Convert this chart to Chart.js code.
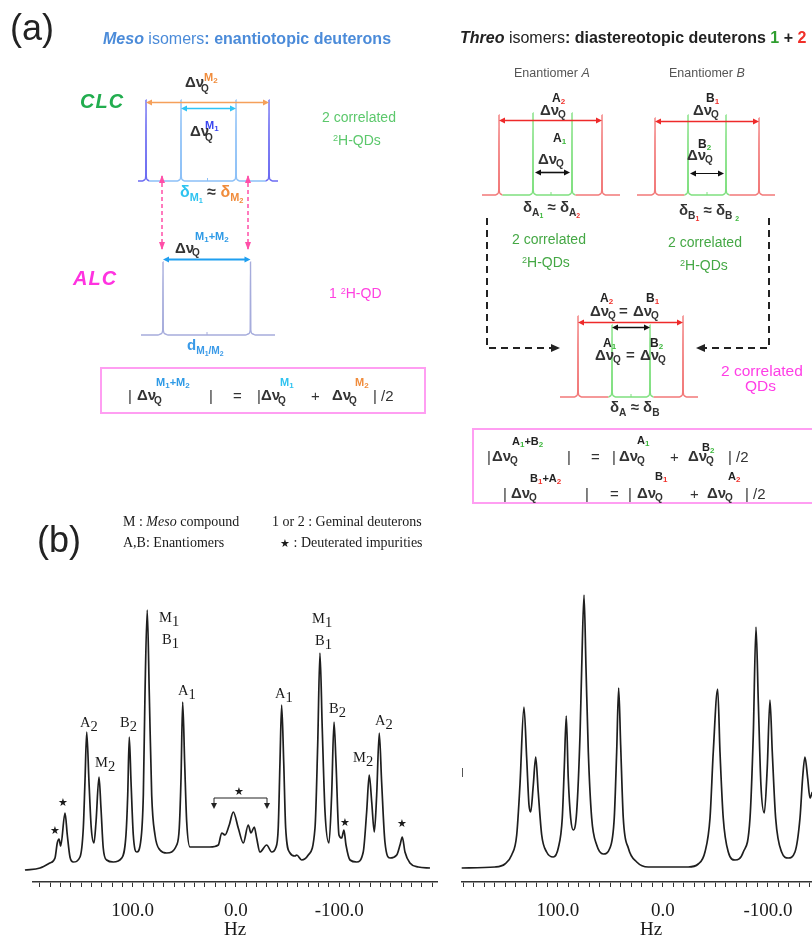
<!doctype html>
<html lang="en">
<head>
<meta charset="UTF-8" />
<title>2H NMR of meso and threo isomers</title>
<script src="https://cdn.jsdelivr.net/npm/chart.js@4.4.1/dist/chart.umd.min.js"></script>
<style>
  html, body { margin: 0; padding: 0; width: 812px; height: 938px; overflow: hidden; background: #fff; }
  #fig { position: relative; width: 812px; height: 938px; overflow: hidden; }
  canvas { position: absolute; }
  .t { position: absolute; white-space: nowrap; line-height: 1; font-family: "Liberation Sans", Arial, sans-serif; color: #222; }
  .dn { font-size: 15px; font-weight: bold; color: #333; }
  .q { font-size: 10px; font-weight: bold; color: #333; }
  .sp { font-size: 11px; font-weight: bold; }
  .sp small, .lab small { font-size: 8px; position: relative; top: 2px; }
  .lab { font-size: 12px; font-weight: bold; color: #222; }
  .fm { font-size: 15px; color: #333; }
  .lo { font-size: 0.68em; position: relative; top: 0.35em; }
  .up { font-size: 0.65em; position: relative; top: -0.45em; }
  .r { color: #f0302a; }
  .g { color: #3cb83c; }
  .serif { font-family: "Liberation Serif", "Times New Roman", serif; color: #1a1a1a; }
  .pk { font-size: 14.5px; }
  .pk span { position: relative; top: 4px; }
  .star { font-size: 11px; transform: translate(-50%, -50%); }
  .box { position: absolute; border: 2px solid #ff9ef2; box-sizing: border-box; }
</style>
</head>
<body>
<div id="fig">
  <!-- part (a) stick spectra -->
  <canvas id="clc" width="156" height="96" style="left:130px;top:90px"></canvas>
  <canvas id="alc" width="156" height="90" style="left:130px;top:250px"></canvas>
  <canvas id="enA" width="152" height="92" style="left:475px;top:108px"></canvas>
  <canvas id="enB" width="152" height="92" style="left:630px;top:108px"></canvas>
  <canvas id="mix" width="160" height="92" style="left:550px;top:310px"></canvas>
  <!-- part (b) spectra -->
  <canvas id="specL" width="450" height="345" style="left:0px;top:595px"></canvas>
  <canvas id="specR" width="400" height="355" style="left:440px;top:585px"></canvas>

  <svg width="812" height="938" style="position:absolute;left:0;top:0">
    <defs>
      <marker id="pinkHead" markerUnits="userSpaceOnUse" markerWidth="8" markerHeight="8" refX="7" refY="4" orient="auto-start-reverse">
        <path d="M0,1 L8,4 L0,7 z" fill="#ff4fa8" />
      </marker>
      <marker id="blackHead" markerUnits="userSpaceOnUse" markerWidth="10" markerHeight="10" refX="2" refY="5" orient="auto">
        <path d="M0,1 L9,5 L0,9 z" fill="#222" />
      </marker>
      <marker id="tinyHead" markerUnits="userSpaceOnUse" markerWidth="6" markerHeight="6" refX="3" refY="3" orient="auto-start-reverse">
        <path d="M0,0 L6,3 L0,6 z" fill="#222" />
      </marker>
    </defs>
    <line x1="162" y1="176" x2="162" y2="249" stroke="#ff4fa8" stroke-width="1.5" stroke-dasharray="4 3" marker-start="url(#pinkHead)" marker-end="url(#pinkHead)" />
    <line x1="248" y1="176" x2="248" y2="249" stroke="#ff4fa8" stroke-width="1.5" stroke-dasharray="4 3" marker-start="url(#pinkHead)" marker-end="url(#pinkHead)" />
    <path d="M487,218 V348 H553" fill="none" stroke="#222" stroke-width="2" stroke-dasharray="7 5" marker-end="url(#blackHead)" />
    <path d="M769,218 V348 H703" fill="none" stroke="#222" stroke-width="2" stroke-dasharray="7 5" marker-end="url(#blackHead)" />
    <path d="M214,806 V798 H267 V806" fill="none" stroke="#222" stroke-width="1" marker-start="url(#tinyHead)" marker-end="url(#tinyHead)" />
    <line x1="462.5" y1="768" x2="462.5" y2="777" stroke="#555" stroke-width="1" />
  </svg>

  <!-- ===== part (a), meso ===== -->
  <div class="t" style="left:10px;top:10px;font-size:36px;">(a)</div>
  <div class="t" style="left:103px;top:31px;font-size:16px;color:#4b8bd9"><b><i>Meso</i></b> isomers<b>: enantiotopic deuterons</b></div>
  <div class="t" style="left:80px;top:91px;font-size:20px;font-weight:bold;font-style:italic;color:#22ad4f;letter-spacing:1px">CLC</div>
  <div class="t dn" style="left:185px;top:74px">Δν</div>
  <div class="t q" style="left:201px;top:84px">Q</div>
  <div class="t sp" style="left:204px;top:72px;color:#f08c3c">M<small>2</small></div>
  <div class="t sp" style="left:205px;top:120px;color:#3a46f0">M<small>1</small></div>
  <div class="t dn" style="left:190px;top:123px">Δν</div>
  <div class="t q" style="left:205px;top:133px">Q</div>
  <div class="t" style="left:322px;top:110px;font-size:14px;color:#5cc86c">2 correlated</div>
  <div class="t" style="left:333px;top:133px;font-size:14px;color:#5cc86c"><span class="up">2</span>H-QDs</div>
  <div class="t" style="left:180px;top:184px;font-size:16px;font-weight:bold;color:#333"><span style="color:#2ec3f0">δ<span class="lo">M<span class="lo">1</span></span></span> ≈ <span style="color:#f08c3c">δ<span class="lo">M<span class="lo">2</span></span></span></div>
  <div class="t sp" style="left:195px;top:231px;color:#2e9ae6">M<small>1</small>+M<small>2</small></div>
  <div class="t dn" style="left:175px;top:240px">Δν</div>
  <div class="t q" style="left:192px;top:248px">Q</div>
  <div class="t" style="left:73px;top:268px;font-size:20px;font-weight:bold;font-style:italic;color:#ff33e0;letter-spacing:1px">ALC</div>
  <div class="t" style="left:329px;top:286px;font-size:14px;color:#ff40e0">1 <span class="up">2</span>H-QD</div>
  <div class="t" style="left:187px;top:337px;font-size:15px;font-weight:bold;color:#3a9ae8">d<span class="lo">M<span class="lo">1</span>/M<span class="lo">2</span></span></div>

  <div class="box" style="left:100px;top:367px;width:326px;height:47px"></div>
  <div class="t fm" style="left:128px;top:388px">|</div>
  <div class="t dn" style="left:137px;top:387px">Δν</div>
  <div class="t q" style="left:154px;top:396px">Q</div>
  <div class="t sp" style="left:156px;top:377px;color:#2e9ae6">M<small>1</small>+M<small>2</small></div>
  <div class="t fm" style="left:209px;top:388px">|</div>
  <div class="t fm" style="left:233px;top:388px">=</div>
  <div class="t fm" style="left:257px;top:388px">|</div>
  <div class="t dn" style="left:261px;top:387px">Δν</div>
  <div class="t q" style="left:278px;top:396px">Q</div>
  <div class="t sp" style="left:280px;top:377px;color:#2ec3f0">M<small>1</small></div>
  <div class="t fm" style="left:311px;top:388px">+</div>
  <div class="t dn" style="left:332px;top:387px">Δν</div>
  <div class="t q" style="left:349px;top:396px">Q</div>
  <div class="t sp" style="left:355px;top:377px;color:#f08c3c">M<small>2</small></div>
  <div class="t fm" style="left:373px;top:388px">| /2</div>

  <!-- ===== part (a), threo ===== -->
  <div class="t" style="left:460px;top:30px;font-size:16px;color:#222"><b><i>Threo</i></b> isomers<b>: diastereotopic deuterons <span style="color:#2f9e2f">1</span> + <span class="r">2</span></b></div>
  <div class="t" style="left:514px;top:67px;font-size:12.5px;color:#555">Enantiomer <i>A</i></div>
  <div class="t" style="left:669px;top:67px;font-size:12.5px;color:#555">Enantiomer <i>B</i></div>

  <div class="t lab" style="left:552px;top:92px">A<small class="r">2</small></div>
  <div class="t dn" style="left:540px;top:102px">Δν</div>
  <div class="t q" style="left:558px;top:110px">Q</div>
  <div class="t lab" style="left:553px;top:132px">A<small class="g">1</small></div>
  <div class="t dn" style="left:538px;top:151px">Δν</div>
  <div class="t q" style="left:556px;top:159px">Q</div>

  <div class="t lab" style="left:706px;top:92px">B<small class="r">1</small></div>
  <div class="t dn" style="left:693px;top:102px">Δν</div>
  <div class="t q" style="left:711px;top:110px">Q</div>
  <div class="t lab" style="left:698px;top:138px">B<small class="g">2</small></div>
  <div class="t dn" style="left:687px;top:147px">Δν</div>
  <div class="t q" style="left:705px;top:155px">Q</div>

  <div class="t" style="left:523px;top:199px;font-size:15px;font-weight:bold;color:#333">δ<span class="lo">A<span class="lo g">1</span></span> ≈ δ<span class="lo">A<span class="lo r">2</span></span></div>
  <div class="t" style="left:679px;top:202px;font-size:15px;font-weight:bold;color:#333">δ<span class="lo">B<span class="lo r">1</span></span> ≈ δ<span class="lo">B <span class="lo g">2</span></span></div>
  <div class="t" style="left:512px;top:232px;font-size:14px;color:#45a845">2 correlated</div>
  <div class="t" style="left:522px;top:255px;font-size:14px;color:#45a845"><span class="up">2</span>H-QDs</div>
  <div class="t" style="left:668px;top:235px;font-size:14px;color:#45a845">2 correlated</div>
  <div class="t" style="left:680px;top:258px;font-size:14px;color:#45a845"><span class="up">2</span>H-QDs</div>

  <div class="t lab" style="left:600px;top:292px">A<small class="r">2</small></div>
  <div class="t lab" style="left:646px;top:292px">B<small class="r">1</small></div>
  <div class="t dn" style="left:590px;top:303px">Δν</div>
  <div class="t q" style="left:608px;top:311px">Q</div>
  <div class="t dn" style="left:619px;top:303px">=</div>
  <div class="t dn" style="left:633px;top:303px">Δν</div>
  <div class="t q" style="left:651px;top:311px">Q</div>
  <div class="t lab" style="left:603px;top:337px">A<small class="g">1</small></div>
  <div class="t lab" style="left:650px;top:337px">B<small class="g">2</small></div>
  <div class="t dn" style="left:595px;top:347px">Δν</div>
  <div class="t q" style="left:613px;top:355px">Q</div>
  <div class="t dn" style="left:626px;top:347px">=</div>
  <div class="t dn" style="left:640px;top:347px">Δν</div>
  <div class="t q" style="left:658px;top:355px">Q</div>
  <div class="t" style="left:721px;top:363px;font-size:15.5px;color:#ff3ee6">2 correlated</div>
  <div class="t" style="left:745px;top:378px;font-size:15.5px;color:#ff3ee6">QDs</div>
  <div class="t" style="left:610px;top:399px;font-size:15px;font-weight:bold;color:#333">δ<span class="lo">A</span> ≈ δ<span class="lo">B</span></div>

  <div class="box" style="left:472px;top:428px;width:345px;height:76px"></div>
  <div class="t fm" style="left:487px;top:449px">|</div>
  <div class="t dn" style="left:492px;top:448px">Δν</div>
  <div class="t q" style="left:510px;top:456px">Q</div>
  <div class="t sp" style="left:512px;top:436px">A<small class="g">1</small>+B<small class="g">2</small></div>
  <div class="t fm" style="left:567px;top:449px">|</div>
  <div class="t fm" style="left:591px;top:449px">=</div>
  <div class="t fm" style="left:612px;top:449px">|</div>
  <div class="t dn" style="left:619px;top:448px">Δν</div>
  <div class="t q" style="left:637px;top:456px">Q</div>
  <div class="t sp" style="left:637px;top:435px">A<small class="g">1</small></div>
  <div class="t fm" style="left:670px;top:449px">+</div>
  <div class="t dn" style="left:688px;top:448px">Δν</div>
  <div class="t q" style="left:706px;top:456px">Q</div>
  <div class="t sp" style="left:702px;top:442px">B<small class="g">2</small></div>
  <div class="t fm" style="left:728px;top:449px">| /2</div>

  <div class="t fm" style="left:503px;top:486px">|</div>
  <div class="t dn" style="left:511px;top:485px">Δν</div>
  <div class="t q" style="left:529px;top:493px">Q</div>
  <div class="t sp" style="left:530px;top:473px">B<small class="r">1</small>+A<small class="r">2</small></div>
  <div class="t fm" style="left:585px;top:486px">|</div>
  <div class="t fm" style="left:610px;top:486px">=</div>
  <div class="t fm" style="left:628px;top:486px">|</div>
  <div class="t dn" style="left:637px;top:485px">Δν</div>
  <div class="t q" style="left:655px;top:493px">Q</div>
  <div class="t sp" style="left:655px;top:471px">B<small class="r">1</small></div>
  <div class="t fm" style="left:690px;top:486px">+</div>
  <div class="t dn" style="left:707px;top:485px">Δν</div>
  <div class="t q" style="left:725px;top:493px">Q</div>
  <div class="t sp" style="left:728px;top:471px">A<small class="r">2</small></div>
  <div class="t fm" style="left:745px;top:486px">| /2</div>

  <!-- ===== part (b) ===== -->
  <div class="t" style="left:37px;top:522px;font-size:36px;">(b)</div>
  <div class="t serif" style="left:123px;top:515px;font-size:14px">M : <i>Meso</i> compound</div>
  <div class="t serif" style="left:272px;top:515px;font-size:14px">1 or 2 : Geminal deuterons</div>
  <div class="t serif" style="left:123px;top:536px;font-size:14px">A,B: Enantiomers</div>
  <div class="t serif" style="left:280px;top:536px;font-size:14px"><span style="font-size:11px">★</span> : Deuterated impurities</div>

  <div class="t serif pk" style="left:80px;top:715px">A<span>2</span></div>
  <div class="t serif pk" style="left:95px;top:755px">M<span>2</span></div>
  <div class="t serif pk" style="left:120px;top:715px">B<span>2</span></div>
  <div class="t serif pk" style="left:159px;top:610px">M<span>1</span></div>
  <div class="t serif pk" style="left:162px;top:632px">B<span>1</span></div>
  <div class="t serif pk" style="left:178px;top:683px">A<span>1</span></div>
  <div class="t serif pk" style="left:275px;top:686px">A<span>1</span></div>
  <div class="t serif pk" style="left:312px;top:611px">M<span>1</span></div>
  <div class="t serif pk" style="left:315px;top:633px">B<span>1</span></div>
  <div class="t serif pk" style="left:329px;top:701px">B<span>2</span></div>
  <div class="t serif pk" style="left:353px;top:750px">M<span>2</span></div>
  <div class="t serif pk" style="left:375px;top:713px">A<span>2</span></div>
  <div class="t serif star" style="left:55px;top:830px">★</div>
  <div class="t serif star" style="left:63px;top:802px">★</div>
  <div class="t serif star" style="left:239px;top:791px">★</div>
  <div class="t serif star" style="left:345px;top:822px">★</div>
  <div class="t serif star" style="left:402px;top:823px">★</div>
</div>

<script>
  // ---- part (b): 2H spectra (Hz, intensity above baseline)
  const leftHz = [
    204.3, 189.7, 180.1, 175.2, 173.0, 171.3, 169.7, 165.5, 163.3, 160.7,
    157.5, 151.0, 147.8, 146.2, 144.5, 142.3, 140.1, 137.5, 135.5, 132.6,
    130.7, 128.5, 125.2, 118.8, 110.6, 106.5, 104.8, 103.3, 101.6, 99.4,
    96.1, 92.3, 89.7, 88.1, 85.9, 83.9, 81.6, 78.4, 73.6, 67.1,
    57.4, 54.9, 53.2, 51.6, 49.7, 47.7, 44.5, 34.8, 25.2, 17.1,
    13.8, 10.6, 6.5, 2.6, -2.2, -7.1, -11.9, -14.5, -17.7, -20.0,
    -23.2, -29.7, -34.6, -38.4, -40.9, -42.6, -44.2, -46.2, -48.1, -52.3,
    -57.1, -58.8, -63.6, -70.0, -76.5, -79.1, -81.3, -83.5, -86.2, -90.0,
    -92.6, -94.9, -96.8, -99.7, -102.3, -104.5, -106.5, -110.4, -116.8, -123.2,
    -126.5, -129.0, -131.4, -133.9, -136.2, -138.7, -141.0, -144.2, -149.1, -155.6,
    -158.8, -161.0, -163.6, -168.4, -176.5, -187.8
  ];
  const leftInt = [
    -2, 0, 5, 10, 25, 29, 22, 55, 33, 11,
    6, 11, 40, 86, 136, 86, 40, 25, 46, 91,
    60, 20, 8, 6, 10, 33, 73, 131, 86, 33,
    16, 26, 73, 173, 258, 173, 73, 33, 18, 15,
    23, 40, 90, 166, 106, 46, 21, 21, 21, 23,
    35, 33, 43, 56, 40, 25, 43, 35, 41, 30,
    16, 23, 16, 20, 40, 106, 163, 106, 40, 15,
    12, 13, 8, 13, 40, 123, 215, 140, 56, 25,
    73, 146, 106, 33, 30, 38, 23, 8, 6, 16,
    56, 93, 66, 36, 73, 135, 86, 26, 10, 13,
    23, 31, 16, 5, 1, 0
  ];
  const rightHz = [
    191.7, 160.0, 150.5, 144.1, 139.3, 136.2, 132.4, 129.8, 127.6, 126.0,
    123.5, 121.2, 118.8, 115.5, 110.8, 104.5, 99.7, 95.9, 94.0, 92.1,
    90.2, 87.9, 85.4, 82.2, 79.0, 77.4, 75.2, 73.3, 71.1, 67.9,
    63.1, 56.9, 50.5, 46.4, 44.1, 42.2, 40.3, 37.8, 33.0, 25.0,
    14.0, -24.1, -33.6, -40.0, -44.8, -47.9, -52.1, -54.3, -57.4, -62.2,
    -68.6, -76.5, -82.9, -86.0, -88.6, -90.8, -93.3, -96.5, -99.3, -101.9,
    -104.1, -107.3, -113.0, -119.3, -125.7, -130.5, -133.0, -135.2, -137.8, -140.0,
    -142.2
  ];
  const rightInt = [
    -1, 0, 3, 12, 32, 82, 160, 109, 62, 55,
    82, 110, 75, 32, 15, 10, 19, 49, 99, 151,
    89, 49, 37, 55, 132, 199, 272, 199, 115, 49,
    22, 13, 19, 49, 115, 179, 122, 49, 19, 5,
    0, 0, 3, 15, 49, 115, 178, 115, 49, 15,
    7, 15, 49, 132, 240, 165, 82, 54, 99, 167,
    115, 49, 15, 9, 15, 49, 89, 110, 89, 69,
    75
  ];
  const majorTicks = [100, 0, -100];
  const tickStep = 10;

  // ---- part (a): schematic stick spectra (relative Hz, peak heights)
  const clcPeaks = [-61.5, -26.5, 28.5, 61.5];
  const clcHeights = [81, 81, 81, 81];
  const clcSpan = [-69.5, 70.5];
  const alcPeaks = [-44, 43.5];
  const alcHeights = [73, 73];
  const alcSpan = [-66, 68];
  const enAPeaks = [-52, -18, 21, 51];
  const enAHeights = [80, 82, 82, 80];
  const enASpan = [-69, 69];
  const enBPeaks = [-52, -19, 19, 52];
  const enBHeights = [77, 80, 80, 77];
  const enBSpan = [-70, 68];
  const mixPeaks = [-53, -19, 19, 52];
  const mixHeights = [81, 72, 72, 81];
  const mixSpan = [-71, 67];

  // one narrow line per peak, with a small foot at the base
  function stickPoints(peaks, heights, span, flare) {
    const pts = [{ x: span[0], y: 0 }];
    peaks.forEach((p, i) => {
      pts.push(
        { x: p - flare, y: 0 }, { x: p - flare * 0.35, y: 1.2 }, { x: p - 0.3, y: 5 },
        { x: p, y: heights[i] },
        { x: p + 0.3, y: 5 }, { x: p + flare * 0.35, y: 1.2 }, { x: p + flare, y: 0 }
      );
    });
    pts.push({ x: span[1], y: 0 });
    return pts;
  }

  // double-headed QD arrows between two peaks + the small centre mark
  const arrowPlugin = {
    id: 'qdArrows',
    afterDatasetsDraw(chart, args, opts) {
      const ctx = chart.ctx;
      const xs = chart.scales.x, ys = chart.scales.y;
      ctx.save();
      const cx = xs.getPixelForValue(0), cy = ys.getPixelForValue(0);
      ctx.strokeStyle = opts.mark;
      ctx.lineWidth = 1;
      ctx.beginPath(); ctx.moveTo(cx, cy); ctx.lineTo(cx, cy - 3); ctx.stroke();
      opts.list.forEach(a => {
        const inset = a.inset || 0;
        const x1 = xs.getPixelForValue(opts.peaks[a.pair[0]] + inset);
        const x2 = xs.getPixelForValue(opts.peaks[a.pair[1]] - inset);
        const y = Math.round(ys.getPixelForValue(a.y)) + 0.5;
        ctx.strokeStyle = a.color;
        ctx.fillStyle = a.color;
        ctx.lineWidth = a.width;
        ctx.beginPath(); ctx.moveTo(x1 + 4, y); ctx.lineTo(x2 - 4, y); ctx.stroke();
        [[x1, 1], [x2, -1]].forEach(([px, d]) => {
          ctx.beginPath();
          ctx.moveTo(px, y);
          ctx.lineTo(px + 6 * d, y - 3);
          ctx.lineTo(px + 6 * d, y + 3);
          ctx.closePath();
          ctx.fill();
        });
      });
      ctx.restore();
    }
  };

  function stickChart(id, cfg) {
    return new Chart(document.getElementById(id), {
      type: 'line',
      data: {
        datasets: [{
          data: stickPoints(cfg.peaks, cfg.heights, cfg.span, cfg.flare),
          borderWidth: 1.4,
          borderColor: cfg.inner,
          pointRadius: 0,
          cubicInterpolationMode: 'monotone',
          clip: false,
          segment: {
            borderColor: c => Math.abs((c.p0.parsed.x + c.p1.parsed.x) / 2) > cfg.split ? cfg.outer : cfg.inner
          }
        }]
      },
      options: {
        responsive: false,
        animation: false,
        events: [],
        layout: { padding: 0 },
        scales: {
          x: { type: 'linear', display: false, min: cfg.xr[0], max: cfg.xr[1] },
          y: { display: false, min: cfg.yr[0], max: cfg.yr[1] }
        },
        plugins: {
          legend: { display: false },
          tooltip: { enabled: false },
          qdArrows: { list: cfg.arrows, peaks: cfg.peaks, mark: cfg.inner }
        }
      },
      plugins: [arrowPlugin]
    });
  }

  const RED = '#f27878', GREEN = '#7fe07f';

  stickChart('clc', {
    peaks: clcPeaks, heights: clcHeights, span: clcSpan, flare: 3.5,
    xr: [-77.5, 78.5], yr: [-5, 91], outer: '#6b6bf2', inner: '#8cc0f7', split: 45,
    arrows: [
      { pair: [0, 3], y: 79, color: '#f5a05a', width: 1.5 },
      { pair: [1, 2], y: 73, color: '#2fc4f5', width: 1.5 }
    ]
  });
  stickChart('alc', {
    peaks: alcPeaks, heights: alcHeights, span: alcSpan, flare: 5,
    xr: [-77, 79], yr: [-5, 85], outer: '#a6acdc', inner: '#a6acdc', split: 0,
    arrows: [{ pair: [0, 1], y: 76, color: '#1f9ff0', width: 1.8 }]
  });
  stickChart('enA', {
    peaks: enAPeaks, heights: enAHeights, span: enASpan, flare: 3.5,
    xr: [-76, 76], yr: [-5, 87], outer: RED, inner: GREEN, split: 35,
    arrows: [
      { pair: [0, 3], y: 75, color: '#ee2a2a', width: 1.5 },
      { pair: [1, 2], y: 23, color: '#111', width: 1.6, inset: 2 }
    ]
  });
  stickChart('enB', {
    peaks: enBPeaks, heights: enBHeights, span: enBSpan, flare: 3.5,
    xr: [-77, 75], yr: [-5, 87], outer: RED, inner: GREEN, split: 35,
    arrows: [
      { pair: [0, 3], y: 74, color: '#ee2a2a', width: 1.5 },
      { pair: [1, 2], y: 22, color: '#111', width: 1, inset: 2 }
    ]
  });
  stickChart('mix', {
    peaks: mixPeaks, heights: mixHeights, span: mixSpan, flare: 3.5,
    xr: [-81, 79], yr: [-5, 87], outer: RED, inner: GREEN, split: 35,
    arrows: [
      { pair: [0, 3], y: 75, color: '#ee2a2a', width: 1.6 },
      { pair: [1, 2], y: 70, color: '#111', width: 1.5 }
    ]
  });

  // ---- part (b) spectra
  function spectrum(id, hz, inten, xr, yr, pad) {
    const ticks = [];
    for (let v = Math.ceil(xr[0] / tickStep) * tickStep; v <= xr[1]; v += tickStep) ticks.push(v);
    return new Chart(document.getElementById(id), {
      type: 'line',
      data: {
        datasets: [{
          data: hz.map((h, i) => ({ x: h, y: inten[i] })),
          borderColor: '#1e1e1e',
          borderWidth: 1.7,
          pointRadius: 0,
          cubicInterpolationMode: 'monotone',
          capBezierPoints: false,
          clip: false
        }]
      },
      options: {
        responsive: false,
        animation: false,
        events: [],
        layout: { padding: { left: pad[0], right: pad[1], top: 0, bottom: 0 } },
        scales: {
          x: {
            type: 'linear',
            reverse: true,
            min: xr[0],
            max: xr[1],
            afterBuildTicks: s => { s.ticks = ticks.map(v => ({ value: v })); },
            afterFit: s => { s.height = 58; },
            grid: { drawOnChartArea: false, drawTicks: true, tickLength: 5, color: '#333', lineWidth: 1 },
            border: { display: true, color: '#333', width: 1.6 },
            ticks: {
              autoSkip: false,
              maxRotation: 0,
              padding: 13,
              color: '#1a1a1a',
              font: { family: '"Liberation Serif", "Times New Roman", serif', size: 19 },
              callback: v => majorTicks.includes(v) ? v.toFixed(1) : ''
            },
            title: {
              display: true,
              text: 'Hz',
              color: '#1a1a1a',
              padding: 0,
              font: { family: '"Liberation Serif", "Times New Roman", serif', size: 19, lineHeight: 1 }
            }
          },
          y: { display: false, min: yr[0], max: yr[1] }
        },
        plugins: { legend: { display: false }, tooltip: { enabled: false } }
      }
    });
  }

  spectrum('specL', leftHz, leftInt, [-194.6, 196.5], [-14, 273], [33, 13]);
  spectrum('specR', rightHz, rightInt, [-168.6, 191.4], [-15, 282], [22, 0]);
</script>
</body>
</html>
